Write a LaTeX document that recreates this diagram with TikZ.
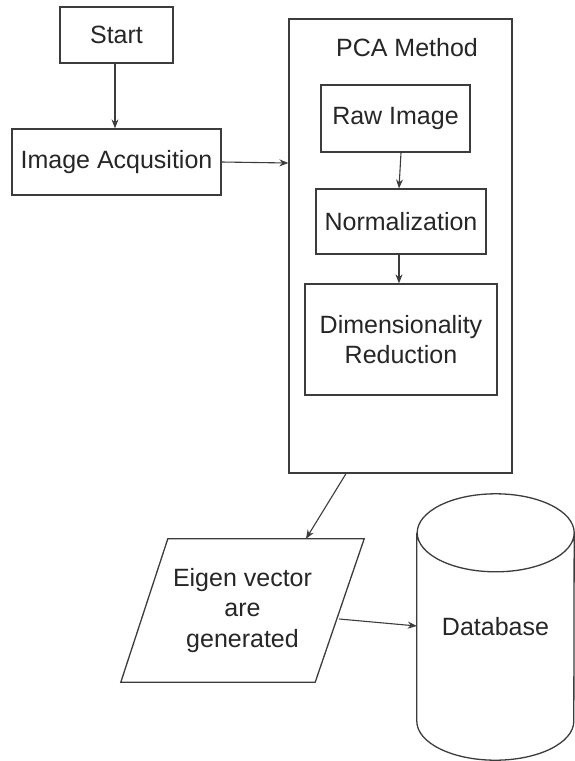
\documentclass[tikz,border=0pt]{standalone}
\usepackage{fontspec}
\setmainfont{Liberation Sans}
\usetikzlibrary{arrows.meta}
\definecolor{ink}{HTML}{262626}
\definecolor{edge}{HTML}{3C3C3C}
\begin{document}
\begin{tikzpicture}[x=1pt,y=-1pt,
  every node/.style={text=ink,font=\fontsize{25}{30.5}\selectfont,align=center,inner sep=0pt},
  box/.style={draw=edge,line width=1.3pt,rectangle},
  shapeline/.style={draw=edge,line width=1.3pt,line join=miter},
  arr/.style={draw=edge,line width=1.1pt,-{Stealth[length=9pt,width=7pt]}}]
\useasboundingbox (0,0) rectangle (575,761);
\fill[white] (0,0) rectangle (575,761);

% left column
\node[box,minimum width=113pt,minimum height=56pt] (start) at (116.5,35) {Start};
\node[box,minimum width=209pt,minimum height=66pt] (ia) at (116.5,162) {Image Acqusition};

% PCA container and its inner steps
\node[box,minimum width=223pt,minimum height=454pt] (pca) at (400.5,246) {};
\node (pcatitle) at (407,48) {PCA Method};
\node[box,minimum width=149pt,minimum height=67pt] (raw) at (395.5,118.5) {Raw Image};
\node[box,minimum width=170pt,minimum height=65pt] (norm) at (401,221.5) {Normalization};
\node[box,minimum width=192pt,minimum height=111pt] (dim) at (401,339.5) {Dimensionality\\Reduction};

% output parallelogram
\node[minimum width=243pt,minimum height=143pt] (eig) at (242.5,610.5) {Eigen vector\\are\\generated};
\draw[shapeline] ([xshift=47pt]eig.north west) -- (eig.north east)
  -- ([xshift=-49pt]eig.south east) -- (eig.south west) -- cycle;

% database cylinder
\node[minimum width=157pt,minimum height=266pt] (db) at (495.5,627) {Database};
\draw[shapeline] ([yshift=-39pt]db.north west) -- ([yshift=39pt]db.south west)
  arc[start angle=180,end angle=360,x radius=78.5pt,y radius=39pt]
  -- ([yshift=-39pt]db.north east)
  arc[start angle=0,end angle=-360,x radius=78.5pt,y radius=39pt];

% connectors
\draw[arr] ([xshift=-1.5pt]start.south) -- ([xshift=-1.5pt]ia.north);
\draw[arr] (ia.east) -- ([yshift=-1pt]ia.east -| pca.west);
\draw[arr] ([xshift=5.5pt]raw.south) -- ([xshift=-2pt]norm.north);
\draw[arr] ([xshift=-2pt]norm.south) -- ([xshift=-2pt]dim.north);
\draw[arr] ([xshift=-54.5pt]pca.south) -- ([xshift=63.5pt]eig.north);
\draw[arr] ([xshift=-25pt,yshift=-8.5pt]eig.east) -- ([yshift=1pt]db.west);
\end{tikzpicture}
\end{document}
